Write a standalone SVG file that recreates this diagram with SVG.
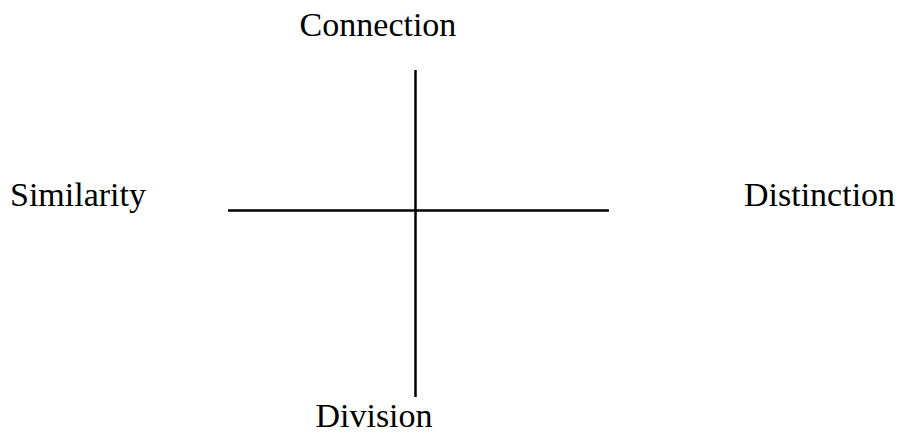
<svg xmlns="http://www.w3.org/2000/svg" width="898" height="433" viewBox="0 0 898 433">
<style>
.lbl{font-family:"Liberation Serif","Times New Roman",serif;font-size:34px;fill:#000}
.ax{stroke:#000;stroke-width:2.5;fill:none}
</style>
<rect width="898" height="433" fill="#fff"/>
<g id="connectors">
<line class="ax" x1="415.5" y1="70" x2="415.5" y2="397"/>
<line class="ax" x1="228" y1="210.5" x2="609" y2="210.5"/>
</g>
<g id="connection"><text class="lbl" x="378" y="36" text-anchor="middle">Connection</text></g>
<g id="similarity"><text class="lbl" x="10" y="206">Similarity</text></g>
<g id="distinction"><text class="lbl" x="744" y="206">Distinction</text></g>
<g id="division"><text class="lbl" x="374" y="427" text-anchor="middle">Division</text></g>
</svg>
